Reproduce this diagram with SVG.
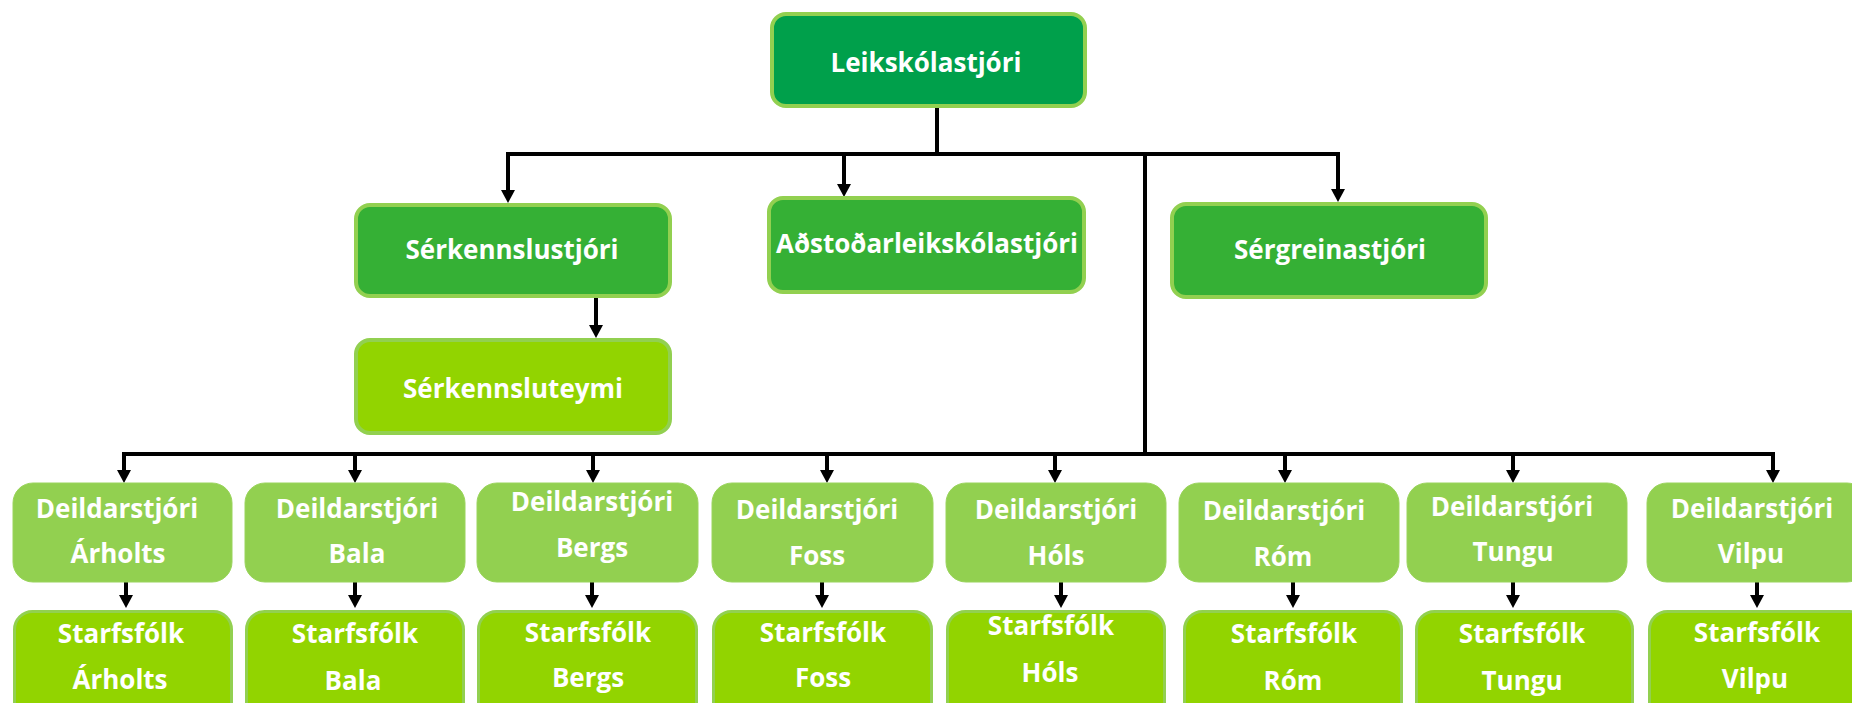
<svg xmlns="http://www.w3.org/2000/svg" width="1852" height="703" viewBox="0 0 1852 703">
<defs>
<style>
.t{font-family:"Open Sans","Liberation Sans",sans-serif;font-weight:bold;font-size:26px;fill:#ffffff;text-anchor:middle}
.top{fill:#00A04B;stroke:#92D050;stroke-width:4}
.mid{fill:#35B035;stroke:#92D050;stroke-width:4}
.team{fill:#92D400;stroke:#92D050;stroke-width:4}
.dept{fill:#92D050;stroke:#9AD45C;stroke-width:1}
.staff{fill:#92D400;stroke:#92D050;stroke-width:3}
.c{fill:none;stroke:#000;stroke-width:4}
.a{fill:none;stroke:#000;stroke-width:4;marker-end:url(#ah)}
</style>
<marker id="ah" viewBox="0 -7 13 14" refX="0" refY="0" markerWidth="13" markerHeight="14" markerUnits="userSpaceOnUse" orient="auto">
<path d="M0,-7 L13,0 L0,7 Z" fill="#000"/>
</marker>
</defs>
<rect width="1852" height="703" fill="#ffffff"/>

<g id="connectors">
<line class="c" x1="937" y1="106" x2="937" y2="154"/>
<polyline class="c" points="506,154 1340,154"/>
<line class="a" x1="508" y1="154" x2="508" y2="190"/>
<line class="a" x1="844" y1="154" x2="844" y2="184"/>
<line class="a" x1="1338" y1="154" x2="1338" y2="189"/>
<line class="a" x1="596" y1="298" x2="596" y2="325"/>
<line class="c" x1="1145" y1="154" x2="1145" y2="454"/>
<polyline class="c" points="122,454 1775,454"/>
<line class="a" x1="124" y1="454" x2="124" y2="470"/>
<line class="a" x1="355" y1="454" x2="355" y2="470"/>
<line class="a" x1="593" y1="454" x2="593" y2="470"/>
<line class="a" x1="827" y1="454" x2="827" y2="470"/>
<line class="a" x1="1055" y1="454" x2="1055" y2="470"/>
<line class="a" x1="1285" y1="454" x2="1285" y2="470"/>
<line class="a" x1="1513" y1="454" x2="1513" y2="470"/>
<line class="a" x1="1773" y1="454" x2="1773" y2="470"/>
<line class="a" x1="126" y1="582" x2="126" y2="595"/>
<line class="a" x1="355" y1="582" x2="355" y2="595"/>
<line class="a" x1="592" y1="582" x2="592" y2="595"/>
<line class="a" x1="822" y1="582" x2="822" y2="595"/>
<line class="a" x1="1061" y1="582" x2="1061" y2="595"/>
<line class="a" x1="1293" y1="582" x2="1293" y2="595"/>
<line class="a" x1="1513" y1="582" x2="1513" y2="595"/>
<line class="a" x1="1757" y1="582" x2="1757" y2="595"/>
</g>

<g id="leikskolastjori">
<rect class="top" x="772" y="14" width="313" height="92" rx="14"/>
<text class="t" x="926" y="72">Leikskólastjóri</text>
</g>
<g id="serkennslustjori">
<rect class="mid" x="356" y="205" width="314" height="91" rx="14"/>
<text class="t" x="512" y="259">Sérkennslustjóri</text>
</g>
<g id="adstodarleikskolastjori">
<rect class="mid" x="769" y="198" width="315" height="94" rx="14"/>
<text class="t" x="927" y="253">Aðstoðarleikskólastjóri</text>
</g>
<g id="sergreinastjori">
<rect class="mid" x="1172" y="204" width="314" height="93" rx="14"/>
<text class="t" x="1330" y="259">Sérgreinastjóri</text>
</g>
<g id="serkennsluteymi">
<rect class="team" x="356" y="340" width="314" height="93" rx="14"/>
<text class="t" x="513" y="398">Sérkennsluteymi</text>
</g>

<g id="deild-arholts">
<rect class="dept" x="13" y="483" width="219" height="99" rx="20"/>
<text class="t" x="117" y="518">Deildarstjóri</text>
<text class="t" x="118" y="563">Árholts</text>
</g>
<g id="deild-bala">
<rect class="dept" x="245" y="483" width="220" height="99" rx="20"/>
<text class="t" x="357" y="518">Deildarstjóri</text>
<text class="t" x="357" y="563">Bala</text>
</g>
<g id="deild-bergs">
<rect class="dept" x="477" y="483" width="221" height="99" rx="20"/>
<text class="t" x="592" y="511">Deildarstjóri</text>
<text class="t" x="592" y="557">Bergs</text>
</g>
<g id="deild-foss">
<rect class="dept" x="712" y="483" width="221" height="99" rx="20"/>
<text class="t" x="817" y="519">Deildarstjóri</text>
<text class="t" x="817" y="565">Foss</text>
</g>
<g id="deild-hols">
<rect class="dept" x="946" y="483" width="220" height="99" rx="20"/>
<text class="t" x="1056" y="519">Deildarstjóri</text>
<text class="t" x="1056" y="565">Hóls</text>
</g>
<g id="deild-rom">
<rect class="dept" x="1179" y="483" width="220" height="99" rx="20"/>
<text class="t" x="1284" y="520">Deildarstjóri</text>
<text class="t" x="1283" y="566">Róm</text>
</g>
<g id="deild-tungu">
<rect class="dept" x="1407" y="483" width="220" height="99" rx="20"/>
<text class="t" x="1512" y="516">Deildarstjóri</text>
<text class="t" x="1513" y="561">Tungu</text>
</g>
<g id="deild-vilpu">
<rect class="dept" x="1647" y="483" width="220" height="99" rx="20"/>
<text class="t" x="1752" y="518">Deildarstjóri</text>
<text class="t" x="1751" y="563">Vilpu</text>
</g>

<g id="starf-arholts">
<rect class="staff" x="14.5" y="611.5" width="217" height="110" rx="18"/>
<text class="t" x="121" y="643">Starfsfólk</text>
<text class="t" x="120" y="689">Árholts</text>
</g>
<g id="starf-bala">
<rect class="staff" x="246.5" y="611.5" width="217" height="110" rx="18"/>
<text class="t" x="355" y="643">Starfsfólk</text>
<text class="t" x="353" y="690">Bala</text>
</g>
<g id="starf-bergs">
<rect class="staff" x="478.5" y="611.5" width="218" height="110" rx="18"/>
<text class="t" x="588" y="642">Starfsfólk</text>
<text class="t" x="588" y="687">Bergs</text>
</g>
<g id="starf-foss">
<rect class="staff" x="713.5" y="611.5" width="218" height="110" rx="18"/>
<text class="t" x="823" y="642">Starfsfólk</text>
<text class="t" x="823" y="687">Foss</text>
</g>
<g id="starf-hols">
<rect class="staff" x="947.5" y="611.5" width="217" height="110" rx="18"/>
<text class="t" x="1051" y="635">Starfsfólk</text>
<text class="t" x="1050" y="682">Hóls</text>
</g>
<g id="starf-rom">
<rect class="staff" x="1184.5" y="611.5" width="217" height="110" rx="18"/>
<text class="t" x="1294" y="643">Starfsfólk</text>
<text class="t" x="1293" y="690">Róm</text>
</g>
<g id="starf-tungu">
<rect class="staff" x="1416.5" y="611.5" width="216" height="110" rx="18"/>
<text class="t" x="1522" y="643">Starfsfólk</text>
<text class="t" x="1522" y="690">Tungu</text>
</g>
<g id="starf-vilpu">
<rect class="staff" x="1649.5" y="611.5" width="218" height="110" rx="18"/>
<text class="t" x="1757" y="642">Starfsfólk</text>
<text class="t" x="1755" y="688">Vilpu</text>
</g>
</svg>
